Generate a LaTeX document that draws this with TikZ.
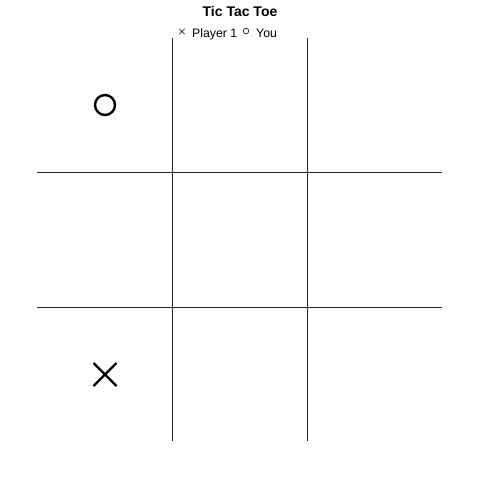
\documentclass[tikz,border=0pt]{standalone}
\usepackage{fontspec}
\setmainfont{Liberation Sans}
\usetikzlibrary{calc}
\begin{document}
\begin{tikzpicture}[x=1pt,y=-1pt,
  gridline/.style={line width=0.9pt,draw=black!85},
  xomark/.style={line width=2.4pt,black},
  legmark/.style={line width=0.6pt,black},
  lbl/.style={inner sep=0pt,anchor=base west,font=\fontsize{12.3}{13}\selectfont}]
\useasboundingbox (0,0) rectangle (480,480);
\node[font=\bfseries\fontsize{14}{16}\selectfont] (title) at (240,11) {Tic Tac Toe};
% legend
\coordinate (lx) at (182,31.5);
\draw[legmark] ($(lx)+(-2.7,-2.7)$) -- ($(lx)+(2.7,2.7)$) ($(lx)+(-2.7,2.7)$) -- ($(lx)+(2.7,-2.7)$);
\node[lbl] (p1) at (192,37) {Player 1};
\coordinate (lo) at (246,31);
\draw[legmark] (lo) circle (2.8);
\node[lbl] (you) at (256,37) {You};
% grid
\coordinate (v1t) at (172,38); \coordinate (v1b) at (172,441);
\coordinate (v2t) at (307,38); \coordinate (v2b) at (307,441);
\coordinate (h1l) at (37,172); \coordinate (h1r) at (442,172);
\coordinate (h2l) at (37,307); \coordinate (h2r) at (442,307);
\draw[gridline] (v1t) -- (v1b);
\draw[gridline] (v2t) -- (v2b);
\draw[gridline] (h1l) -- (h1r);
\draw[gridline] (h2l) -- (h2r);
% marks
\coordinate (o1) at (105,105);
\draw[xomark] (o1) circle (10);
\coordinate (x1) at (105,374.5);
\draw[xomark] ($(x1)+(-11.5,-11.5)$) -- ($(x1)+(11.5,11.5)$) ($(x1)+(-11.5,11.5)$) -- ($(x1)+(11.5,-11.5)$);
\end{tikzpicture}
\end{document}
